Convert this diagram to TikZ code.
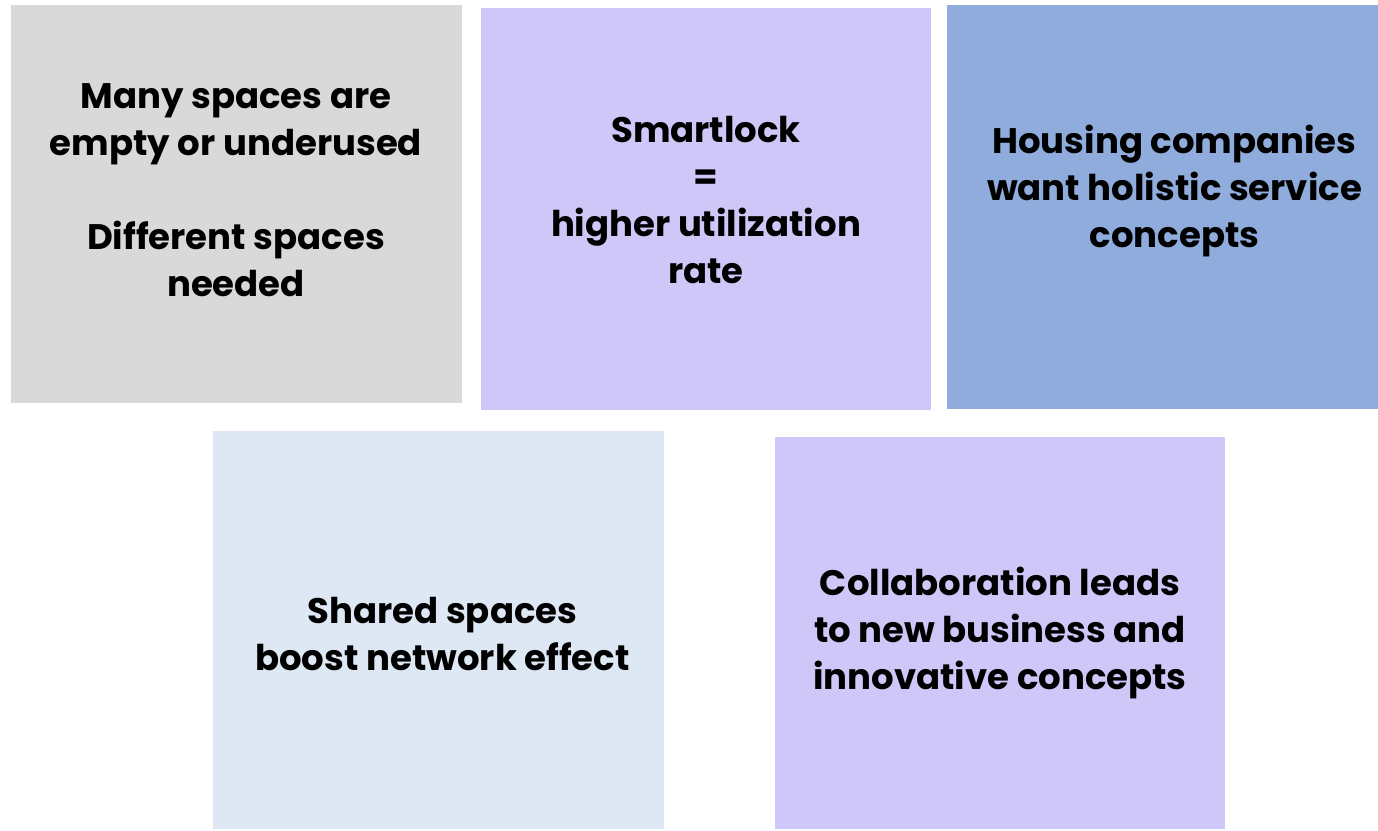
\documentclass[tikz,border=0pt]{standalone}
\usepackage{fontspec}
\setmainfont{Poppins}
\usepackage{tikz}
\usepackage{xcolor}

\definecolor{boxgray}{HTML}{D9D9D9}
\definecolor{boxlilac}{HTML}{CEC7F7}
\definecolor{boxblue}{HTML}{8FACDC}
\definecolor{boxpale}{HTML}{DDE8F4}

\begin{document}
\begin{tikzpicture}[x=1pt,y=-1pt,
  main/.style={rectangle,inner sep=0pt,minimum width=451pt,minimum height=398pt},
  txt/.style={align=center,font=\fontsize{35.5}{47}\selectfont\bfseries}]
\useasboundingbox (0,0) rectangle (1378,830);

\node[main,fill=boxgray] (1) at (236,204) {};
\node[main,fill=boxlilac,minimum width=450pt,minimum height=402pt] (2) at (706,209) {};
\node[main,fill=boxblue,minimum width=431pt,minimum height=404pt] (3) at (1162.5,207) {};
\node[main,fill=boxpale,minimum width=451pt] (4) at (438.5,630) {};
\node[main,fill=boxlilac,minimum width=450pt,minimum height=392pt] (5) at (1000,633) {};

\node[txt] (t1) at ([yshift=14pt]1.center) {Many spaces are\\empty or underused\\[47pt]Different spaces\\needed};
\node[txt] (t2) at ([yshift=9pt]2.center) {Smartlock\\=\\higher utilization\\rate};
\node[txt] (t3) at ([xshift=12pt,yshift=16pt]3.center) {Housing companies\\want holistic service\\concepts};
\node[txt] (t4) at ([xshift=4pt,yshift=-4pt]4.center) {Shared spaces\\boost network effect};
\node[txt] (t5) at (5.center) {Collaboration leads\\to new business and\\innovative concepts};

\end{tikzpicture}
\end{document}
